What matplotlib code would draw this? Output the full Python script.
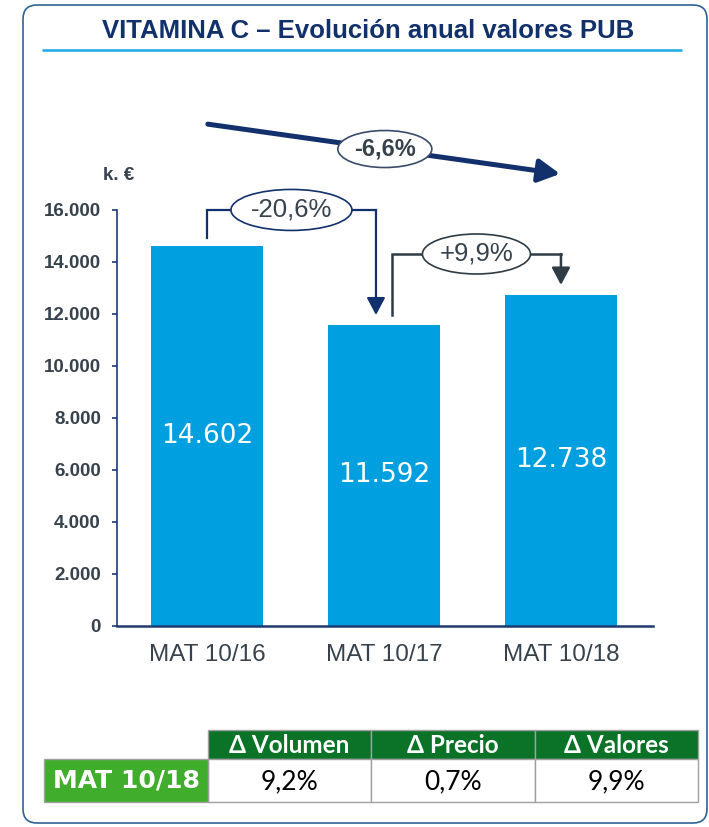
import matplotlib
matplotlib.use("Agg")
import matplotlib.pyplot as plt
from matplotlib.patches import FancyBboxPatch, Rectangle, Ellipse
from matplotlib.transforms import ScaledTranslation

# ---- data ----
periods = ["MAT 10/16", "MAT 10/17", "MAT 10/18"]
values = [14602, 11592, 12738]
yticks = [0, 2000, 4000, 6000, 8000, 10000, 12000, 14000, 16000]
unit_label = "k. €"
title = "VITAMINA C – Evolución anual valores PUB"

table_header = ["Δ Volumen", "Δ Precio", "Δ Valores"]
table_row_label = "MAT 10/18"
table_values = ["9,2%", "0,7%", "9,9%"]

# ---- colours ----
NAVY = "#12306B"
AXIS = "#1F3A6E"
BAR = "#009FDF"
TXT = "#37424C"
DARKGRAY = "#2F3B45"
FRAME = "#2F6393"
HEAD_GREEN = "#0A7327"
LABEL_GREEN = "#40AE2C"
GRID_GRAY = "#A0A0A0"


def thousands(v):
    return f"{v:,.0f}".replace(",", ".")


W, H = 709, 827
fig = plt.figure(figsize=(W / 100, H / 100), dpi=100)

# background layer in pixel coordinates (frame, title, table)
bg = fig.add_axes([0, 0, 1, 1], zorder=0)
bg.set_xlim(0, W)
bg.set_ylim(H, 0)
bg.axis("off")

bg.add_patch(FancyBboxPatch((23, 5), 684, 818,
                            boxstyle="round,pad=0,rounding_size=14",
                            fc="white", ec=FRAME, lw=1.2))
bg.text(368, 31, title, ha="center", va="center", fontsize=18.5,
        fontweight="bold", color=NAVY, family="Liberation Sans")
bg.plot([42, 682], [50, 50], color="#1CA8E2", lw=1.8, solid_capstyle="butt")
bg.text(119, 176, unit_label, ha="center", va="center", fontsize=13.5,
        fontweight="bold", color=TXT, family="Liberation Sans")

# ---- summary table ----
col_x = [208, 371, 535, 698]
head_top, head_bot, row_bot = 730, 759, 802
for i, name in enumerate(table_header):
    x0, x1 = col_x[i], col_x[i + 1]
    bg.add_patch(Rectangle((x0, head_top), x1 - x0, head_bot - head_top,
                           fc=HEAD_GREEN, ec=GRID_GRAY, lw=1))
    bg.text((x0 + x1) / 2, (head_top + head_bot) / 2 + 1, name,
            ha="center", va="center", color="white", fontsize=17.5,
            fontweight="bold", family="Lato")
    bg.add_patch(Rectangle((x0, head_bot), x1 - x0, row_bot - head_bot,
                           fc="white", ec=GRID_GRAY, lw=1))
    bg.text((x0 + x1) / 2, (head_bot + row_bot) / 2 + 1, table_values[i],
            ha="center", va="center", color="black", fontsize=19,
            family="Lato")
bg.add_patch(Rectangle((44, head_bot), col_x[0] - 44, row_bot - head_bot,
                       fc=LABEL_GREEN, ec=GRID_GRAY, lw=1))
bg.text((44 + col_x[0]) / 2, (head_bot + row_bot) / 2, table_row_label,
        ha="center", va="center", color="white", fontsize=18,
        fontweight="bold", family="DejaVu Sans")

# ---- bar chart ----
ax = fig.add_axes([117 / W, (H - 626) / H, (653 - 117) / W, (626 - 210) / H],
                  zorder=1)
ax.patch.set_visible(False)
x = list(range(len(periods)))
ax.bar(x, values, width=0.633, color=BAR, zorder=2)
ax.set_xlim(-0.508, 2.52)
ax.set_ylim(0, 16000)

ax.set_yticks(yticks)
ax.set_yticklabels([thousands(t) for t in yticks], fontsize=13.5,
                   fontweight="bold", color=TXT, family="Liberation Sans")
ax.set_xticks(x)
ax.set_xticklabels(periods, fontsize=17.5, color=TXT, family="Liberation Sans")
ax.tick_params(axis="y", length=3.6, width=1.2, color=AXIS, pad=8)
ax.tick_params(axis="x", length=0, pad=13)
for s in ("top", "right"):
    ax.spines[s].set_visible(False)
ax.spines["left"].set_color(AXIS)
ax.spines["left"].set_linewidth(1.2)
ax.spines["bottom"].set_color(AXIS)
ax.spines["bottom"].set_linewidth(1.8)

for xi, v in zip(x, values):
    ax.text(xi, v / 2, thousands(v), ha="center", va="center", color="white",
            fontsize=19, family="DejaVu Sans", zorder=3)


def oval_label(xc, yc, w_px, h_px, text, edge, bold=False):
    tr = fig.dpi_scale_trans + ScaledTranslation(xc, yc, ax.transData)
    ax.add_patch(Ellipse((0, 0), w_px / 100, h_px / 100, transform=tr,
                         fc="white", ec=edge, lw=1.2, zorder=5, clip_on=False))
    ax.text(xc, yc, text, ha="center", va="center", color=TXT,
            fontsize=17 if bold else 18.5, fontweight="bold" if bold else "normal",
            family="Liberation Sans", zorder=6, clip_on=False)


def bracket(xa, ya, xb, yb, level, text, color, lw, w_px, h_px):
    ax.plot([xa, xa, xb], [ya, level, level], color=color, lw=lw,
            solid_joinstyle="miter", clip_on=False, zorder=4)
    ax.annotate("", xy=(xb, yb), xytext=(xb, level),
                arrowprops=dict(arrowstyle="-|>,head_length=0.75,head_width=0.4",
                                mutation_scale=14, color=color, lw=lw,
                                shrinkA=0, shrinkB=0),
                annotation_clip=False, zorder=4)
    oval_label((xa + xb) / 2, level, w_px, h_px, text, color)


# year-on-year changes
ch1 = values[1] / values[0] - 1
ch2 = values[2] / values[1] - 1
bracket(0, values[0] + 320, 0.955, values[1] + 370, max(values[0], values[1]) + 1400,
        f"{ch1 * 100:.1f}%".replace(".", ","), NAVY, 1.6, 121, 41)
bracket(1.045, values[1] + 370, 2.0, values[2] + 380, max(values[1], values[2]) + 1570,
        f"{ch2 * 100:+.1f}%".replace(".", ","), DARKGRAY, 1.8, 108, 40)

# compound annual trend over the whole period
cagr = (values[-1] / values[0]) ** (1 / (len(values) - 1)) - 1
ax.annotate("", xy=(1.995, values[-1] + 4650), xytext=(0.005, values[0] + 4700),
            arrowprops=dict(arrowstyle="-|>,head_length=1.3,head_width=0.7",
                            mutation_scale=10, color=NAVY, lw=3.6,
                            shrinkA=0, shrinkB=0),
            annotation_clip=False, zorder=4)
oval_label(1.005, (values[0] + 4700 + values[-1] + 4650) / 2, 94, 37,
           f"{cagr * 100:.1f}%".replace(".", ","), "#3A4A6A", bold=True)

fig.savefig("out.png", dpi=100)
